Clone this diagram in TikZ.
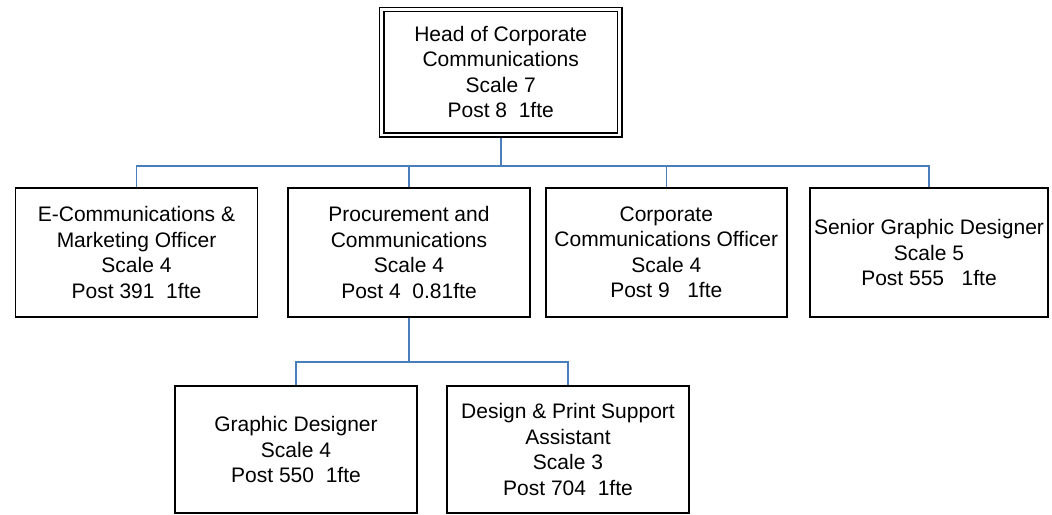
\documentclass[tikz,border=0pt]{standalone}
\usepackage{fontspec}
\setmainfont{Liberation Sans}
\usetikzlibrary{backgrounds}
\definecolor{linkblue}{HTML}{4A7EBB}
\begin{document}
\begin{tikzpicture}[x=1pt,y=-1pt,
  post/.style={draw=black, line width=1.5pt, fill=white, inner sep=0pt,
    align=center, minimum width=242pt, minimum height=129pt,
    font=\fontsize{21}{25.5}\selectfont},
  headpost/.style={post, double, double distance=2.8pt, line width=1.4pt,
    minimum width=238pt, minimum height=125.5pt},
  link/.style={draw=linkblue, line width=1.6pt}]
\useasboundingbox (0,0) rectangle (1052,514);

% head of the department
\node[headpost] (head) at (500.7,72.2)
  {Head of Corporate\\Communications\\Scale 7\\Post 8~~1fte};

% second tier
\node[post] (ecom) at (136.5,252.5)
  {E-Communications \&\\Marketing Officer\\Scale 4\\Post 391~~1fte};
\node[post] (proc) at (409,252.5)
  {Procurement and\\Communications\\Scale 4\\Post 4~~0.81fte};
\node[post, minimum width=241pt] (cco) at (666.3,252.5)
  {Corporate\\Communications Officer\\Scale 4\\Post 9~~~1fte};
\node[post, minimum width=238pt] (sgd) at (929,252.5)
  {Senior Graphic Designer\\Scale 5\\Post 555~~~1fte};

% third tier
\node[post, minimum height=127pt] (gd) at (296,449.5)
  {Graphic Designer\\Scale 4\\Post 550~~1fte};
\node[post, minimum height=127pt] (dps) at (568,449.5)
  {Design \& Print Support\\Assistant\\Scale 3\\Post 704~~1fte};

% reporting lines
\coordinate (bus) at (0,166);
\coordinate (bustwo) at (0,362);
\begin{scope}[on background layer]
  \draw[link] (head.south) -- (head.south |- bus);
  \draw[link] (ecom.north) -- (ecom.north |- bus) -- (sgd.north |- bus) -- (sgd.north);
  \draw[link] (proc.north) -- (proc.north |- bus);
  \draw[link] (cco.north) -- (cco.north |- bus);
  \draw[link] (proc.south) -- (proc.south |- bustwo);
  \draw[link] (gd.north) -- (gd.north |- bustwo) -- (dps.north |- bustwo) -- (dps.north);
\end{scope}
\end{tikzpicture}
\end{document}
